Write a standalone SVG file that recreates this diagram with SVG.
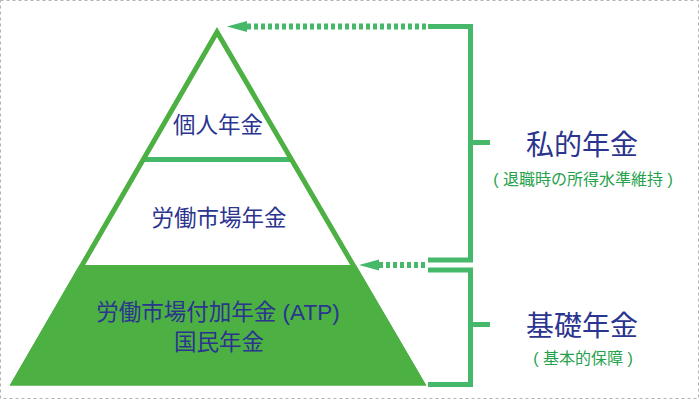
<svg xmlns="http://www.w3.org/2000/svg" width="700" height="400" viewBox="0 0 700 400">
<defs>
<style>
.frame{fill:none;stroke:#b3b3b3;stroke-width:1;stroke-dasharray:3 3}
.tri{fill:none;stroke:#4cb043;stroke-width:5;stroke-linejoin:miter}
.base{fill:#4cb043}
.div{stroke:#45b86a;stroke-width:5;fill:none}
.br{stroke:#45b86a;stroke-width:5;fill:none;stroke-linejoin:miter}
.dots{stroke:#45b86a;stroke-width:6;fill:none;stroke-dasharray:4 3}
.head{fill:#45b86a}
.t{font-family:"Liberation Sans","Noto Sans CJK JP",sans-serif;fill:#2b348f;text-anchor:middle}
.tier{font-size:22.5px}
.title{font-size:28px}
.sub{font-size:16px;fill:#25a24c}
</style>
</defs>
<rect class="frame" x="0.5" y="0.5" width="698" height="398"/>
<g id="tier-base">
<polygon class="base" points="79.4,265 355.9,265 426.3,385.5 9.7,385.5"/>
<text class="t tier" x="218" y="320">労働市場付加年金 (ATP)</text>
<text class="t tier" x="219" y="350">国民年金</text>
</g>
<g id="tier-mid">
<line class="div" x1="143" y1="159.5" x2="291" y2="159.5"/>
<text class="t tier" x="219" y="226">労働市場年金</text>
</g>
<g id="tier-top">
<polygon class="tri" points="217,32 14,383 422,383"/>
<text class="t tier" x="218" y="133">個人年金</text>
</g>
<g id="connectors">
<path class="br" d="M428,26.5 H470.5 V260 H428"/>
<path class="br" d="M470.5,142.5 H490"/>
<path class="br" d="M428,270 H470.5 V384.5 H428"/>
<path class="br" d="M470.5,324.5 H490"/>
<line class="dots" x1="247" y1="26.5" x2="428" y2="26.5"/>
<polygon class="head" points="227,26.5 247,21 247,32"/>
<line class="dots" x1="379" y1="265" x2="427" y2="265"/>
<polygon class="head" points="359,265 379,259.5 379,270.5"/>
</g>
<g id="label-private">
<text class="t title" x="582" y="155">私的年金</text>
<text class="t sub" x="583" y="185">( 退職時の所得水準維持 )</text>
</g>
<g id="label-basic">
<text class="t title" x="582" y="336">基礎年金</text>
<text class="t sub" x="583" y="364">( 基本的保障 )</text>
</g>
</svg>
